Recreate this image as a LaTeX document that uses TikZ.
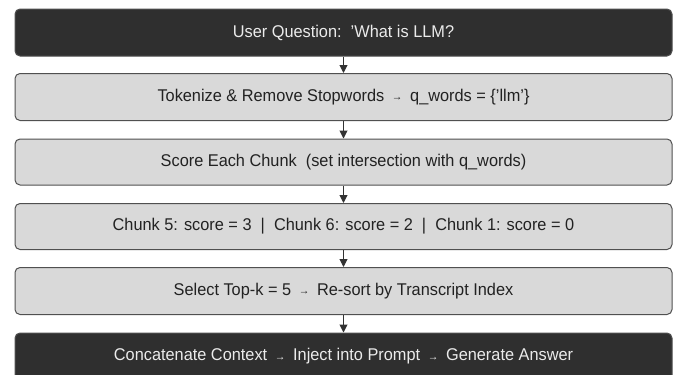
\documentclass[tikz,border=0pt]{standalone}
\usepackage{fontspec}
\setmainfont{Liberation Sans}
\usetikzlibrary{arrows.meta}
\definecolor{darkfill}{HTML}{2F2F2F}
\definecolor{lightfill}{HTML}{D9D9D9}
\definecolor{edge}{HTML}{505050}
\definecolor{txt}{HTML}{222222}
\newcommand{\arr}{\hspace{8pt}{\raisebox{0.1ex}{\fontsize{11}{11}\selectfont →}}\hspace{8pt}}
\newcommand{\sx}[1]{\scalebox{0.96}[1]{#1}}
\tikzset{
  boxbase/.style={rectangle, rounded corners=5pt, minimum width=657pt, draw=edge, line width=1pt, font=\fontsize{17}{20}\selectfont, inner sep=0pt},
  darkbox/.style={boxbase, fill=darkfill, text=white!92!black},
  lightbox/.style={boxbase, fill=lightfill, text=txt},
  flow/.style={-{Triangle[length=8pt,width=8pt]}, line width=1pt, draw=black!80}
}
\begin{document}
\begin{tikzpicture}[x=1pt,y=-1pt]
\useasboundingbox (0,0) rectangle (673,375);
\clip (0,0) rectangle (673,375);
\node[darkbox, minimum height=47pt] (q) at (343.5,32.5) {\sx{User Question:\ \ 'What is LLM?}};
\node[lightbox, minimum height=47pt] (tok) at (343.5,97) {\sx{Tokenize \& Remove Stopwords\arr q\_words = \{'llm'\}}};
\node[lightbox, minimum height=46pt] (score) at (343.5,162) {\sx{Score Each Chunk\ \ (set intersection with q\_words)}};
\node[lightbox, minimum height=46pt] (res) at (343.5,226.5) {\sx{Chunk 5: score = 3\ \ |\ \ Chunk 6: score = 2\ \ |\ \ Chunk 1: score = 0}};
\node[lightbox, minimum height=47pt] (sel) at (343.5,291) {\sx{Select Top-k = 5\arr Re-sort by Transcript Index}};
\node[darkbox, minimum height=47pt] (gen) at (343.5,356.5) {\sx{Concatenate Context\arr Inject into Prompt\arr Generate Answer}};
\draw[flow] (q) -- (tok);
\draw[flow] (tok) -- (score);
\draw[flow] (score) -- (res);
\draw[flow] (res) -- (sel);
\draw[flow] (sel) -- (gen);
\end{tikzpicture}
\end{document}
